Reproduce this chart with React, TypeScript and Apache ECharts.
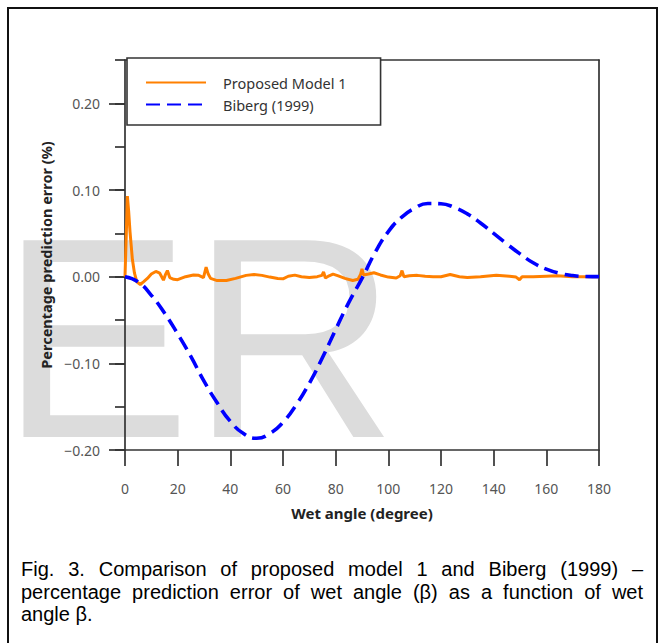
import React, { useEffect, useRef } from "react";
import * as echarts from "echarts";

// ---- data ----
const yLabelValues = [-0.2, -0.1, 0, 0.1, 0.2];

const bibergAngles = [
  0, 5, 10, 15, 20, 25, 30, 35, 40, 45, 50, 55, 60, 65, 70, 75, 80, 85, 90,
  95, 100, 105, 110, 115, 120, 125, 130, 135, 140, 145, 150, 155, 160, 165,
  170, 175, 180,
];
const bibergError = [
  0, -0.006, -0.0215, -0.042, -0.066, -0.092, -0.1205, -0.1455, -0.167,
  -0.181, -0.1865, -0.181, -0.168, -0.148, -0.123, -0.0933, -0.061, -0.0297,
  -0.002, 0.028, 0.052, 0.0685, 0.079, 0.0845, 0.0842, 0.0799, 0.0725, 0.062,
  0.05, 0.0378, 0.0263, 0.016, 0.0087, 0.0039, 0.0013, 0.0002, 0,
];

const modelAngles = [
  0, 0.5, 0.9, 1.4, 1.9, 2.8, 3.6, 4.5, 5.8, 7, 8.5, 10, 11.7, 13.2, 14.6,
  15.3, 16.1, 17, 18.5, 20, 23, 26, 28, 29.8, 30.8, 31.6, 32.5, 35, 38.5, 42,
  46, 49, 52, 55, 58, 60, 62, 64.5, 67, 70, 73, 74.8, 75.4, 76.1, 77.5, 79,
  81, 83.5, 86.5, 88.5, 89.5, 90, 90.6, 92.5, 94.5, 97, 100, 103, 104.5,
  105.2, 105.9, 108, 111, 114, 117, 120, 123.5, 127, 130, 135, 141, 146,
  148.5, 149.8, 150.8, 155, 160, 164, 170, 175, 180,
];
const modelError = [
  0, 0.05, 0.093, 0.075, 0.052, 0.02, 0.004, -0.006, -0.009, -0.006, -0.002,
  0.003, 0.006, 0.004, -0.004, 0.002, 0.007, -0.001, -0.003, -0.0035, 0,
  0.002, 0.0015, -0.001, 0.011, 0.003, -0.002, -0.0045, -0.0045, -0.002,
  0.0015, 0.0025, 0.0015, -0.0005, -0.002, -0.0025, 0.0005, 0.0018, 0, -0.001,
  0, 0.0015, 0.0055, -0.0015, 0.001, 0.003, 0.001, -0.002, -0.0045, -0.003,
  0.003, 0.009, 0.002, 0.003, 0.0045, 0.002, -0.0005, -0.0015, 0.001, 0.007,
  0, 0.001, 0.0015, 0.0005, 0, 0, 0.0025, 0, -0.001, 0, 0.0015, 0.0005,
  -0.0005, -0.0035, 0, 0, 0.0006, 0.001, 0, 0, 0,
];

const seriesNames = ["Proposed Model 1", "Biberg (1999)"];
const xAxisTitle = "Wet angle (degree)";
const yAxisTitle = "Percentage prediction error (%)";
const watermarkText = "ER";
const captionLines = [
  "Fig. 3. Comparison of proposed model 1 and Biberg (1999) –",
  "percentage prediction error of wet angle (β) as a function of wet",
  "angle β.",
];

const UI_FONT = '"Noto Sans", "Open Sans", sans-serif';
const CAP_FONT = '20px "Liberation Sans", Arial, sans-serif';
const CAP_X0 = 21;
const CAP_X1 = 643;
const CAP_Y0 = 569;
const CAP_LH = 22.5;

const fmtTick = (v: number) => {
  const r = Math.round(v * 100);
  if (r % 10 !== 0 || r > 20) return "";
  const s = Math.abs(v).toFixed(2);
  return r < 0 ? "\u2212" + s : s;
};

export default function App() {
  const ref = useRef<HTMLDivElement>(null);

  useEffect(() => {
    document.body.style.margin = "0";
    document.body.style.background = "#fff";
    if (!ref.current) return;
    const chart = echarts.init(ref.current, undefined, { renderer: "svg" });

    // caption, justified like the original
    const canvas = document.createElement("canvas");
    const ctx = canvas.getContext("2d")!;
    ctx.font = CAP_FONT;
    const spaceW = ctx.measureText(" ").width;
    const captionEls: any[] = [];
    captionLines.forEach((line, i) => {
      const words = line.split(" ");
      const widths = words.map((w) => ctx.measureText(w).width);
      const total = widths.reduce((a, b) => a + b, 0);
      const justify = i < captionLines.length - 1 && words.length > 1;
      const gap = justify ? (CAP_X1 - CAP_X0 - total) / (words.length - 1) : spaceW;
      let x = CAP_X0;
      const y = CAP_Y0 + i * CAP_LH;
      words.forEach((w, j) => {
        captionEls.push({
          type: "text",
          x,
          y,
          silent: true,
          style: { text: w, font: CAP_FONT, fill: "#000", verticalAlign: "middle" },
        });
        x += widths[j] + gap;
      });
    });

    const axisColor = "#333";
    const lineW = 1.7;

    chart.setOption({
      animation: false,
      backgroundColor: "#fff",
      grid: {
        left: 125,
        right: 65,
        top: 60,
        bottom: 193,
        containLabel: false,
        outerBoundsMode: "none",
      },
      legend: {
        orient: "vertical",
        left: 127,
        top: 58,
        padding: [17, 34, 13, 18],
        itemGap: 7,
        itemWidth: 60,
        itemHeight: 14,
        backgroundColor: "#fff",
        borderColor: axisColor,
        borderWidth: 1.6,
        itemStyle: { opacity: 0, borderWidth: 0 },
        textStyle: { fontFamily: UI_FONT, fontSize: 14.5, color: "#333", padding: [0, 0, 0, 12] },
        data: seriesNames,
        z: 10,
      },
      xAxis: [
        {
          type: "value",
          min: 0,
          max: 180,
          interval: 20,
          position: "bottom",
          axisLine: { show: true, onZero: false, lineStyle: { color: axisColor, width: lineW } },
          axisTick: { show: true, length: 16, lineStyle: { color: axisColor, width: lineW } },
          axisLabel: { margin: 31, color: "#555", fontFamily: UI_FONT, fontSize: 14 },
          splitLine: { show: false },
          name: xAxisTitle,
          nameLocation: "middle",
          nameGap: 55,
          nameTextStyle: { fontFamily: UI_FONT, fontWeight: "bold", fontSize: 15, color: "#222" },
        },
        {
          type: "value",
          min: 0,
          max: 180,
          position: "top",
          axisLine: { show: true, onZero: false, lineStyle: { color: axisColor, width: lineW } },
          axisTick: { show: false },
          axisLabel: { show: false },
          splitLine: { show: false },
        },
      ],
      yAxis: [
        {
          type: "value",
          min: -0.2,
          max: 0.25,
          interval: 0.05,
          position: "left",
          axisLine: { show: true, onZero: false, lineStyle: { color: axisColor, width: lineW } },
          axisTick: { show: true, length: 10, lineStyle: { color: axisColor, width: lineW } },
          axisLabel: {
            customValues: yLabelValues,
            formatter: fmtTick,
            margin: 25,
            color: "#555",
            fontFamily: UI_FONT,
            fontSize: 14,
          },
          splitLine: { show: false },
          name: yAxisTitle,
          nameLocation: "middle",
          nameGap: 70,
          nameTextStyle: { fontFamily: UI_FONT, fontWeight: "bold", fontSize: 14.5, color: "#222" },
        },
        {
          type: "value",
          min: -0.2,
          max: 0.25,
          position: "left",
          axisLine: { show: false, onZero: false },
          axisTick: {
            show: true,
            length: 16,
            customValues: yLabelValues,
            lineStyle: { color: axisColor, width: lineW },
          },
          axisLabel: { show: false },
          splitLine: { show: false },
        },
        {
          type: "value",
          min: -0.2,
          max: 0.25,
          position: "right",
          axisLine: { show: true, onZero: false, lineStyle: { color: axisColor, width: lineW } },
          axisTick: { show: false },
          axisLabel: { show: false },
          splitLine: { show: false },
        },
      ],
      series: [
        {
          name: seriesNames[0],
          type: "line",
          data: modelAngles.map((a, i) => [a, modelError[i]]),
          symbol: "none",
          lineStyle: { color: "#ff8000", width: 3 },
          itemStyle: { color: "#ff8000" },
          z: 3,
        },
        {
          name: seriesNames[1],
          type: "line",
          data: bibergAngles.map((a, i) => [a, bibergError[i]]),
          smooth: true,
          symbol: "none",
          lineStyle: { color: "#0000ff", width: 3.6, type: [14, 7] },
          itemStyle: { color: "#0000ff" },
          z: 4,
        },
      ],
      graphic: [
        {
          type: "rect",
          z: -20,
          silent: true,
          shape: { x: 8, y: 8, width: 649, height: 660 },
          style: { fill: "none", stroke: "#111", lineWidth: 2 },
        },
        {
          type: "text",
          z: -10,
          x: 0,
          y: 338,
          silent: true,
          style: {
            text: watermarkText,
            font: '286px "Liberation Sans", Arial, sans-serif',
            fill: "#dcdcdc",
            verticalAlign: "middle",
          },
        },
        ...captionEls,
      ],
    });

    return () => chart.dispose();
  }, []);

  return <div ref={ref} style={{ width: 664, height: 643 }} />;
}
